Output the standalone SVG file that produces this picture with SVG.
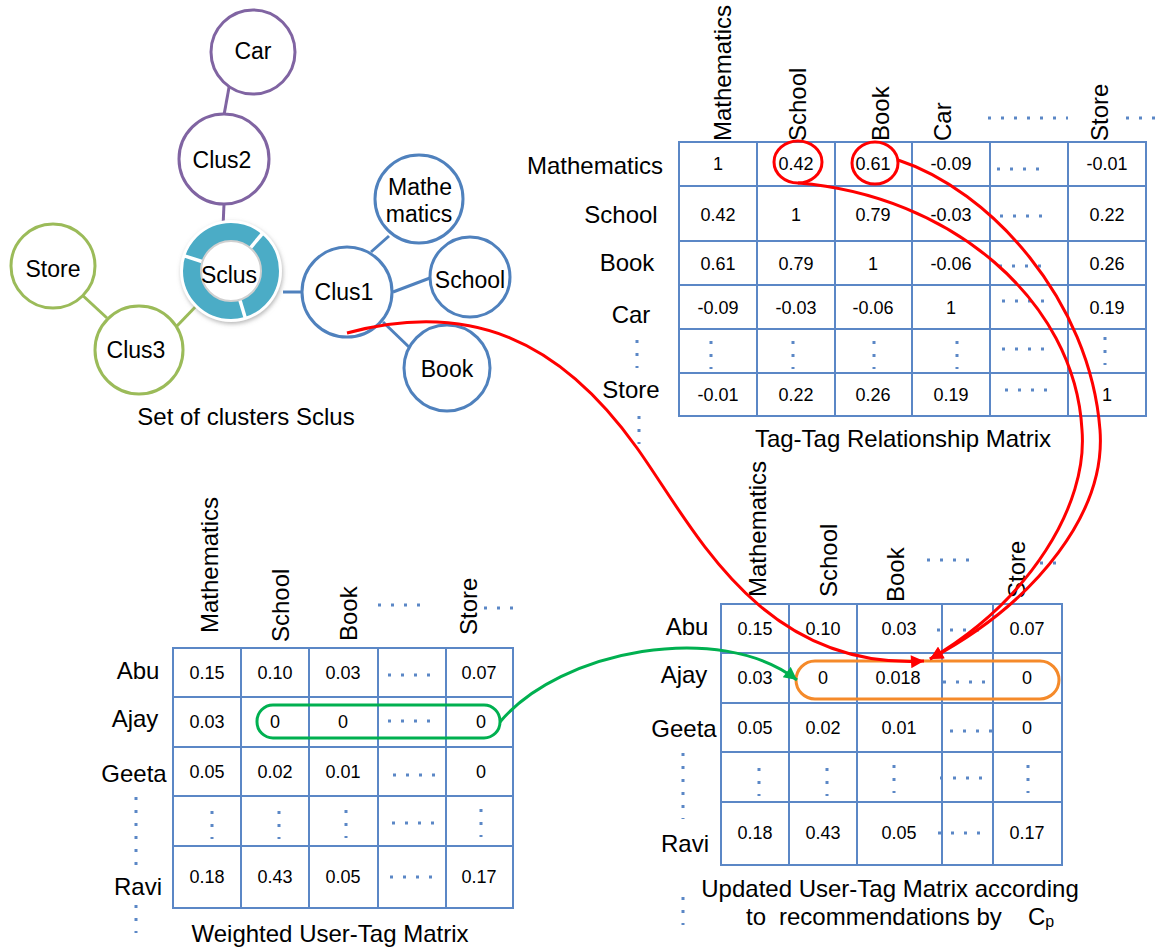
<svg xmlns="http://www.w3.org/2000/svg" width="1156" height="952" viewBox="0 0 1156 952">
  <defs>
    <style>
      text { font-family: "Liberation Sans", Arial, sans-serif; fill: #000; }
      .num { font-size: 18px; text-anchor: middle; }
      .lbl { font-size: 24px; text-anchor: middle; }
      .nl { font-size: 23px; text-anchor: middle; }
      .hdr { font-size: 24px; }
      .grid { fill: #fff; stroke: #5b87c6; stroke-width: 2; }
      .gl { stroke: #5b87c6; stroke-width: 2; fill: none; }
      .dots { stroke: #5b87c6; stroke-width: 3; stroke-dasharray: 3 10; fill: none; }
      .purple { stroke: #8064a2; stroke-width: 3; fill: #fff; }
      .blue { stroke: #4f81bd; stroke-width: 3; fill: #fff; }
      .green { stroke: #9bbb59; stroke-width: 3; fill: #fff; }
      .red { stroke: #ff0000; stroke-width: 3; fill: none; }
    </style>
    <marker id="ahRed" viewBox="0 0 10 10" refX="10" refY="5" markerWidth="15" markerHeight="13" markerUnits="userSpaceOnUse" orient="auto">
      <path d="M0,0 L10,5 L0,10 z" fill="#ff0000"/>
    </marker>
    <marker id="ahGreen" viewBox="0 0 10 10" refX="10" refY="5" markerWidth="15" markerHeight="13" markerUnits="userSpaceOnUse" orient="auto">
      <path d="M0,0 L10,5 L0,10 z" fill="#00b050"/>
    </marker>
    <filter id="soft" x="-20%" y="-20%" width="140%" height="140%">
      <feDropShadow dx="1" dy="2" stdDeviation="2" flood-color="#888" flood-opacity="0.6"/>
    </filter>
  </defs>

  <!-- cluster links -->
  <g id="cluster-links" stroke-width="3" fill="none">
    <line x1="230" y1="82" x2="224" y2="115" stroke="#8064a2"/>
    <line x1="224" y1="204" x2="223" y2="227" stroke="#8064a2"/>
    <line x1="283" y1="292" x2="303" y2="292" stroke="#4f81bd"/>
    <line x1="371" y1="252" x2="389" y2="236" stroke="#4f81bd"/>
    <line x1="393" y1="292" x2="430" y2="278" stroke="#4f81bd"/>
    <line x1="383" y1="322" x2="410" y2="348" stroke="#4f81bd"/>
    <line x1="80" y1="293" x2="107" y2="318" stroke="#9bbb59"/>
    <line x1="175" y1="328" x2="202" y2="300" stroke="#9bbb59"/>
  </g>

  <!-- cluster nodes -->
  <g id="node-car"><circle class="purple" cx="253" cy="52" r="42"/><text class="nl" x="253" y="59">Car</text></g>
  <g id="node-clus2"><circle class="purple" cx="224" cy="159" r="45"/><text class="nl" x="222" y="168">Clus2</text></g>
  <g id="node-sclus">
    <circle cx="231" cy="271" r="51" fill="#fff" filter="url(#soft)"/>
    <circle cx="231" cy="271" r="39" fill="none" stroke="#4bacc6" stroke-width="18"/>
    <g stroke="#fff" stroke-width="3.5">
      <line x1="249.6" y1="248.8" x2="262.5" y2="233.5"/>
      <line x1="239.5" y1="298.7" x2="245.3" y2="317.9"/>
      <line x1="203.4" y1="262" x2="184.4" y2="255.9"/>
    </g>
    <circle cx="231" cy="271" r="30" fill="#fff" stroke="#d0d0d0" stroke-width="2"/>
    <text class="nl" x="229" y="283">Sclus</text>
  </g>
  <g id="node-clus1"><circle class="blue" cx="347" cy="292" r="45"/><text class="nl" x="344" y="300">Clus1</text></g>
  <g id="node-mathematics"><circle class="blue" cx="419" cy="199" r="44"/><text class="nl" x="420" y="195">Mathe</text><text class="nl" x="419" y="222">matics</text></g>
  <g id="node-school"><circle class="blue" cx="470" cy="277" r="40"/><text class="nl" x="470" y="288">School</text></g>
  <g id="node-book"><circle class="blue" cx="447" cy="368" r="43"/><text class="nl" x="447" y="377">Book</text></g>
  <g id="node-store"><circle class="green" cx="53" cy="266" r="42"/><text class="nl" x="53" y="277">Store</text></g>
  <g id="node-clus3"><circle class="green" cx="139" cy="350" r="44"/><text class="nl" x="136" y="358">Clus3</text></g>
  <text class="lbl" x="246" y="425">Set of clusters Sclus</text>

  <!-- Tag-Tag relationship matrix -->
  <g id="tag-tag-matrix">
    <rect class="grid" x="679" y="142" width="467" height="274"/>
    <path class="gl" d="M757 142V416M835 142V416M912 142V416M990 142V416M1068 142V416M679 186H1146M679 241H1146M679 285H1146M679 329H1146M679 373H1146"/>
    <g class="hdr">
      <text transform="translate(731,141) rotate(-90)">Mathematics</text>
      <text transform="translate(806,141) rotate(-90)">School</text>
      <text transform="translate(889,141) rotate(-90)">Book</text>
      <text transform="translate(951,141) rotate(-90)">Car</text>
      <text transform="translate(1108,141) rotate(-90)">Store</text>
    </g>
    <path class="dots" d="M988 118H1068M1126 118H1156"/>
    <g class="lbl">
      <text x="595" y="174">Mathematics</text>
      <text x="621" y="223">School</text>
      <text x="627" y="271">Book</text>
      <text x="631" y="323">Car</text>
      <text x="631" y="398">Store</text>
    </g>
    <path class="dots" d="M637 340V368M639 416V444"/>
    <g class="num">
      <text x="718" y="170">1</text><text x="796" y="170">0.42</text><text x="873" y="170">0.61</text><text x="951" y="170">-0.09</text><text x="1107" y="170">-0.01</text>
      <text x="718" y="221">0.42</text><text x="796" y="221">1</text><text x="873" y="221">0.79</text><text x="951" y="221">-0.03</text><text x="1107" y="221">0.22</text>
      <text x="718" y="270">0.61</text><text x="796" y="270">0.79</text><text x="873" y="270">1</text><text x="951" y="270">-0.06</text><text x="1107" y="270">0.26</text>
      <text x="718" y="314">-0.09</text><text x="796" y="314">-0.03</text><text x="873" y="314">-0.06</text><text x="951" y="314">1</text><text x="1107" y="314">0.19</text>
      <text x="718" y="401">-0.01</text><text x="796" y="401">0.22</text><text x="873" y="401">0.26</text><text x="951" y="401">0.19</text><text x="1107" y="401">1</text>
    </g>
    <path class="dots" d="M997 169H1040M1000 216H1043M999 266H1042M1002 301H1045M1002 349H1045M1005 390H1048"/>
    <path class="dots" d="M711 341V369M793 341V369M874 341V369M957 341V369M1105 337V365"/>
    <text class="lbl" x="903" y="447">Tag-Tag Relationship Matrix</text>
  </g>

  <!-- Weighted user-tag matrix -->
  <g id="weighted-matrix">
    <rect class="grid" x="173" y="648" width="340" height="260"/>
    <path class="gl" d="M241 648V908M309 648V908M378 648V908M446 648V908M173 697H513M173 747H513M173 796H513M173 846H513"/>
    <g class="hdr">
      <text transform="translate(218,633) rotate(-90)">Mathematics</text>
      <text transform="translate(289,642) rotate(-90)">School</text>
      <text transform="translate(357,641) rotate(-90)">Book</text>
      <text transform="translate(477,635) rotate(-90)">Store</text>
    </g>
    <path class="dots" d="M378 605H421M484 608H517"/>
    <g class="lbl">
      <text x="138" y="679">Abu</text>
      <text x="135" y="727">Ajay</text>
      <text x="134" y="782">Geeta</text>
      <text x="138" y="895">Ravi</text>
    </g>
    <path class="dots" d="M136 797V865M136 905V933"/>
    <g class="num">
      <text x="207" y="679">0.15</text><text x="275" y="679">0.10</text><text x="343" y="679">0.03</text><text x="479" y="679">0.07</text>
      <text x="207" y="728">0.03</text><text x="275" y="728">0</text><text x="343" y="728">0</text><text x="481" y="728">0</text>
      <text x="207" y="778">0.05</text><text x="275" y="778">0.02</text><text x="343" y="778">0.01</text><text x="481" y="778">0</text>
      <text x="207" y="883">0.18</text><text x="275" y="883">0.43</text><text x="343" y="883">0.05</text><text x="479" y="883">0.17</text>
    </g>
    <path class="dots" d="M388 675H431M388 721H431M393 775H436M392 823H435M390 877H433"/>
    <path class="dots" d="M212 811V839M279 811V839M346 810V838M481 809V837"/>
    <text class="lbl" x="330" y="942">Weighted User-Tag Matrix</text>
  </g>

  <!-- Updated user-tag matrix -->
  <g id="updated-matrix">
    <rect class="grid" x="721" y="604" width="341" height="261"/>
    <path class="gl" d="M789 604V865M857 604V865M942 604V865M993 604V865M721 653H1062M721 703H1062M721 752H1062M721 802H1062"/>
    <g class="hdr">
      <text transform="translate(766,597) rotate(-90)">Mathematics</text>
      <text transform="translate(837,597) rotate(-90)">School</text>
      <text transform="translate(904,602) rotate(-90)">Book</text>
      <text transform="translate(1025,598) rotate(-90)">Store</text>
    </g>
    <path class="dots" d="M927 560H970M1040 563H1064"/>
    <g class="lbl">
      <text x="687" y="635">Abu</text>
      <text x="684" y="683">Ajay</text>
      <text x="684" y="737">Geeta</text>
      <text x="685" y="852">Ravi</text>
    </g>
    <path class="dots" d="M683 753V819M683 897V925"/>
    <g class="num">
      <text x="755" y="635">0.15</text><text x="823" y="635">0.10</text><text x="899" y="635">0.03</text><text x="1027" y="635">0.07</text>
      <text x="755" y="684">0.03</text><text x="823" y="684">0</text><text x="898" y="684">0.018</text><text x="1027" y="684">0</text>
      <text x="755" y="734">0.05</text><text x="823" y="734">0.02</text><text x="899" y="734">0.01</text><text x="1027" y="734">0</text>
      <text x="755" y="839">0.18</text><text x="823" y="839">0.43</text><text x="899" y="839">0.05</text><text x="1027" y="839">0.17</text>
    </g>
    <path class="dots" d="M937 630H980M943 682H986M950 731H993M940 778H983M938 833H981"/>
    <path class="dots" d="M759 768V796M827 768V796M894 765V793M1028 765V793"/>
    <text class="lbl" x="890" y="897">Updated User-Tag Matrix according</text>
    <text class="lbl" style="text-anchor:start" x="746" y="925">to<tspan x="779">recommendations by</tspan><tspan x="1028">C</tspan><tspan font-size="16" dy="2">p</tspan></text>
  </g>

  <!-- highlights and connectors -->
  <g id="connectors">
    <ellipse class="red" cx="798" cy="162" rx="24" ry="21"/>
    <ellipse class="red" cx="875" cy="163" rx="23" ry="21"/>
    <rect x="257" y="705" width="243" height="33" rx="16" fill="none" stroke="#00b050" stroke-width="3"/>
    <rect x="796" y="661" width="263" height="38" rx="19" fill="none" stroke="#f58a2a" stroke-width="3"/>
    <path class="red" d="M347 333 C470 300 560 340 637 448 C694 528 760 670 924 661" marker-end="url(#ahRed)"/>
    <path class="red" d="M898 160 C990 190 1090 300 1100 430 C1106 510 1040 600 930 659" marker-end="url(#ahRed)"/>
    <path class="red" d="M798 183 C950 195 1075 300 1082 430 C1088 505 1030 600 930 659" marker-end="url(#ahRed)"/>
    <path d="M500 722 C560 650 720 620 797 680" fill="none" stroke="#00b050" stroke-width="3" marker-end="url(#ahGreen)"/>
  </g>
</svg>
